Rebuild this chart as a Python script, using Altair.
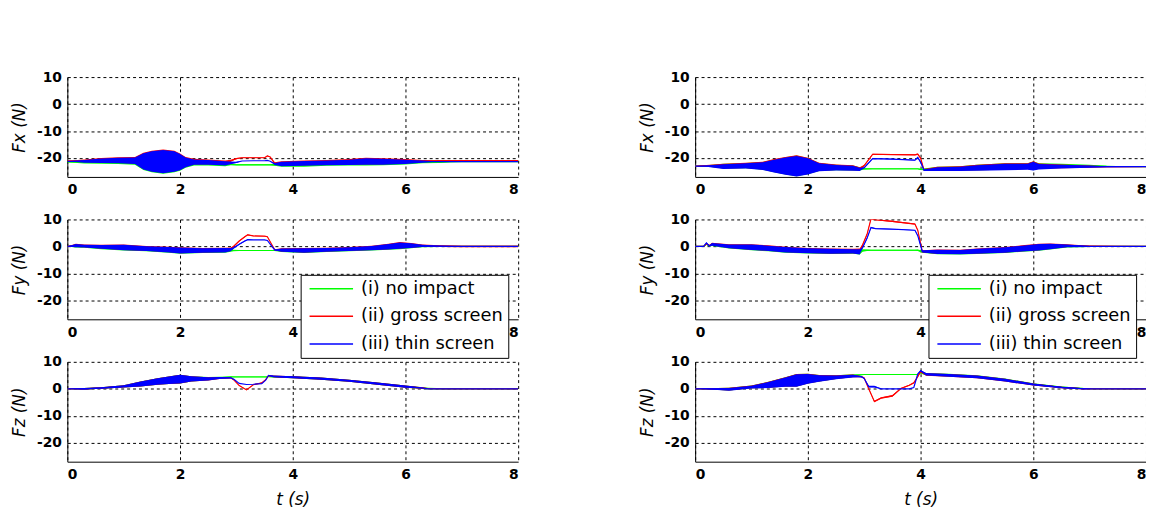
import altair as alt
import pandas as pd

SERIES = ["(i) no impact", "(ii) gross screen", "(iii) thin screen"]
COLORS = ["#00ff00", "#ff0000", "#0000ff"]
X_TICKS = [0, 2, 4, 6, 8]
Y_TICKS = [-20, -10, 0, 10]
Y_DOMAIN = [-27, 10]

# ---------------- left column : Fx ----------------
LFX_T = [0, 0.3, 0.6, 0.9, 1.2, 1.35, 1.5, 1.7, 1.9, 2.0, 2.1, 2.25, 2.5, 2.8, 2.9, 3.0, 3.1, 3.3, 3.5, 3.55,
         3.6, 3.68, 3.8, 4.2, 4.6, 5.0, 5.3, 5.6, 6.0, 6.3, 6.6, 6.8, 7.0, 8.0]
LFX_G = [-21.4, -21.5, -21.3, -21.2, -21.3, -21.4, -21.5, -21.5, -21.5, -21.7, -21.8, -21.8, -21.9, -22.2, -22.4,
         -22.5, -22.5, -22.5, -22.5, -22.5, -22.5, -22.5, -22.4, -22.3, -22.0, -21.8, -21.6, -21.6, -21.6, -21.5,
         -21.5, -21.4, -21.3, -21.3]
LFX_G_AMP = [0.2, 0.5, 0.8, 1.0, 1.2, 3.0, 3.8, 4.3, 3.8, 3.0, 1.8, 1.0, 0.9, 0.8, 0.3, 0.2, 0.2, 0.2, 0.2, 0.2,
             0.2, 0.4, 0.8, 0.9, 0.9, 1.0, 1.2, 1.1, 0.8, 0.4, 0.3, 0.1, 0, 0]
LFX_R = [-21.0, -21.0, -20.8, -20.7, -20.8, -21.0, -21.1, -21.1, -21.1, -21.3, -21.4, -21.3, -21.4, -21.7, -21.0,
         -20.2, -19.9, -19.9, -19.9, -19.2, -19.6, -22.0, -22.0, -21.8, -21.6, -21.4, -21.1, -21.2, -21.2, -21.0,
         -20.9, -20.9, -20.9, -20.9]
LFX_R_AMP = [0, 0.5, 0.8, 1.0, 1.2, 3.0, 3.8, 4.3, 3.8, 3.0, 1.8, 1.0, 0.9, 0.8, 0.4, 0.2, 0.1, 0.1, 0.1, 0.1,
             0.1, 0.4, 0.8, 0.9, 0.9, 1.0, 1.2, 1.1, 0.8, 0.3, 0, 0, 0, 0]
LFX_B = [-21.2, -21.2, -21.0, -20.9, -21.0, -21.2, -21.3, -21.3, -21.3, -21.5, -21.6, -21.5, -21.6, -22.0, -21.8,
         -21.6, -21.1, -21.0, -21.0, -20.9, -21.2, -22.2, -22.2, -22.0, -21.8, -21.6, -21.3, -21.4, -21.4, -21.3,
         -21.3, -21.3, -21.3, -21.3]
LFX_B_AMP = [0, 0.5, 0.8, 1.0, 1.2, 3.0, 3.8, 4.3, 3.8, 3.0, 1.8, 1.0, 0.9, 0.8, 0.5, 0.2, 0, 0, 0, 0,
             0, 0.4, 0.8, 0.9, 0.9, 1.0, 1.2, 1.1, 0.8, 0.4, 0, 0, 0, 0]

# ---------------- left column : Fy ----------------
LFY_T = [0, 0.15, 0.3, 0.6, 1.0, 1.4, 1.8, 2.0, 2.4, 2.8, 2.9, 2.95, 3.05, 3.15, 3.2, 3.3, 3.5, 3.55, 3.62, 3.68,
         3.8, 4.2, 4.6, 5.0, 5.4, 5.7, 5.9, 6.1, 6.3, 6.6, 7.0, 8.0]
LFY_G = [0, 0.2, 0.0, -0.3, -0.5, -0.9, -1.3, -1.6, -1.6, -1.5, -1.4, -1.5, -1.5, -1.5, -1.5, -1.5, -1.5, -1.5,
         -1.5, -1.5, -1.5, -1.6, -1.4, -1.1, -0.7, -0.2, 0.2, 0.2, 0.1, 0.0, 0, 0]
LFY_G_AMP = [0, 0.6, 0.5, 0.7, 1.0, 0.9, 1.0, 1.1, 0.8, 0.8, 0.6, 0.3, 0.2, 0.2, 0.2, 0.2, 0.2, 0.2, 0.2, 0.2,
             0.6, 0.8, 0.7, 0.7, 0.8, 1.0, 1.2, 0.9, 0.4, 0.2, 0.1, 0]
LFY_R = [0, 0.4, 0.2, -0.1, -0.3, -0.7, -1.1, -1.4, -1.4, -1.3, -1.0, 0.0, 2.0, 3.6, 4.3, 3.9, 3.8, 3.6, 1.0,
         -1.2, -1.3, -1.4, -1.2, -0.9, -0.5, 0.0, 0.4, 0.4, 0.3, 0.1, 0, 0]
LFY_R_AMP = [0, 0.6, 0.5, 0.7, 1.0, 0.9, 1.0, 1.1, 0.8, 0.8, 0.6, 0.3, 0.2, 0.2, 0.2, 0.1, 0.1, 0.1, 0.1, 0.2,
             0.6, 0.8, 0.7, 0.7, 0.8, 1.0, 1.2, 0.9, 0.4, 0.3, 0.3, 0.3]
LFY_B = [0, 0.3, 0.1, -0.2, -0.4, -0.8, -1.2, -1.5, -1.5, -1.4, -1.2, -0.6, 0.8, 2.0, 2.5, 2.4, 2.4, 2.2, 0.3,
         -1.3, -1.4, -1.5, -1.3, -1.0, -0.6, -0.1, 0.3, 0.3, 0.2, 0.1, 0, 0]
LFY_B_AMP = [0, 0.6, 0.5, 0.7, 1.0, 0.9, 1.0, 1.1, 0.8, 0.8, 0.6, 0.3, 0.2, 0.2, 0.1, 0, 0, 0, 0, 0.2,
             0.6, 0.8, 0.7, 0.7, 0.8, 1.0, 1.2, 0.9, 0.4, 0.2, 0.1, 0]

# ---------------- left column : Fz ----------------
LFZ_T = [0, 0.3, 0.6, 1.0, 1.3, 1.6, 1.8, 2.0, 2.2, 2.5, 2.7, 2.9, 2.95, 3.05, 3.18, 3.3, 3.45, 3.52, 3.57, 3.65,
         4.0, 4.5, 5.0, 5.5, 6.0, 6.3, 6.4, 6.7, 7.0, 8.0]
LFZ_G = [0, 0, 0.3, 0.9, 1.8, 2.7, 3.2, 3.6, 3.7, 3.8, 4.1, 4.4, 4.4, 4.4, 4.4, 4.4, 4.4, 4.4, 4.5, 4.5,
         4.3, 3.8, 3.0, 1.9, 0.8, 0.3, 0.1, 0, 0, 0]
LFZ_G_AMP = [0, 0.3, 0.3, 0.4, 0.9, 1.2, 1.4, 1.6, 1.0, 0.6, 0.4, 0.2, 0.1, 0.1, 0.1, 0.1, 0.1, 0.1, 0.1, 0.3,
             0.4, 0.4, 0.4, 0.4, 0.4, 0.3, 0.3, 0.2, 0, 0]
LFZ_R = [0, 0, 0.3, 0.9, 1.8, 2.7, 3.2, 3.6, 3.7, 3.7, 4.0, 4.1, 3.4, 1.2, -0.4, 1.5, 2.2, 3.4, 4.9, 4.6,
         4.3, 3.8, 3.0, 1.9, 0.8, 0.3, 0.1, 0, 0, 0]
LFZ_R_AMP = [0, 0.3, 0.3, 0.4, 0.9, 1.2, 1.4, 1.6, 1.0, 0.6, 0.4, 0.2, 0.1, 0.1, 0.1, 0.1, 0.1, 0.1, 0.1, 0.3,
             0.4, 0.4, 0.4, 0.4, 0.4, 0.3, 0.1, 0, 0, 0]
LFZ_B = [0, 0, 0.3, 0.9, 1.8, 2.7, 3.2, 3.6, 3.7, 3.7, 4.0, 4.1, 3.6, 2.0, 1.6, 1.7, 1.9, 3.2, 5.0, 4.6,
         4.3, 3.8, 3.0, 1.9, 0.8, 0.3, 0, 0, 0, 0]
LFZ_B_AMP = [0, 0.3, 0.3, 0.4, 0.9, 1.2, 1.4, 1.6, 1.0, 0.6, 0.4, 0.2, 0, 0, 0, 0, 0, 0, 0.1, 0.3,
             0.4, 0.4, 0.4, 0.4, 0.4, 0.2, 0, 0, 0, 0]

# ---------------- right column : Fx ----------------
RFX_T = [0, 0.2, 0.5, 0.9, 1.2, 1.4, 1.6, 1.8, 2.0, 2.2, 2.5, 2.8, 2.92, 3.0, 3.15, 3.5, 3.9, 3.95, 4.0, 4.06,
         4.3, 4.7, 5.0, 5.5, 5.9, 6.0, 6.1, 6.5, 7.0, 7.3, 8.0]
RFX_G = [-23.0, -22.9, -23.0, -22.8, -22.9, -22.9, -22.9, -22.9, -23.0, -23.3, -23.5, -23.7, -24.0, -24.0, -24.0,
         -24.0, -24.0, -24.0, -24.2, -24.2, -23.9, -23.8, -23.5, -23.1, -23.0, -22.9, -22.9, -22.8, -22.9, -23.1,
         -23.2]
RFX_G_AMP = [0, 0.2, 0.9, 1.0, 1.4, 2.4, 3.2, 3.8, 3.0, 1.5, 1.0, 0.9, 0.6, 0.2, 0.1, 0.1, 0.1, 0.1, 0.2, 0.3,
             0.7, 0.8, 1.0, 1.2, 1.1, 1.6, 1.0, 0.7, 0.4, 0.2, 0]
RFX_R = [-23.0, -22.8, -23.0, -22.7, -22.8, -22.8, -22.8, -22.8, -22.9, -23.2, -23.4, -23.6, -24.0, -22.8, -18.6,
         -18.7, -18.8, -18.6, -20.0, -24.4, -23.9, -23.8, -23.5, -23.1, -23.0, -22.8, -23.0, -23.1, -23.2, -23.2,
         -23.2]
RFX_R_AMP = [0, 0.2, 0.9, 1.0, 1.4, 2.4, 3.2, 3.8, 3.0, 1.5, 1.0, 0.9, 0.6, 0.2, 0.2, 0.2, 0.2, 0.3, 0.2, 0.3,
             0.7, 0.8, 1.0, 1.2, 1.1, 1.6, 1.0, 0.7, 0.4, 0.2, 0.1]
RFX_B = [-23.0, -23.0, -23.2, -22.9, -23.0, -23.0, -23.0, -23.0, -23.1, -23.4, -23.6, -23.8, -24.2, -23.6, -20.2,
         -20.4, -20.8, -19.8, -21.5, -24.5, -24.1, -24.0, -23.7, -23.3, -23.2, -23.0, -23.2, -23.2, -23.2, -23.2,
         -23.2]
RFX_B_AMP = [0, 0.2, 0.9, 1.0, 1.4, 2.4, 3.2, 3.8, 3.0, 1.5, 1.0, 0.9, 0.6, 0.2, 0.1, 0.1, 0.1, 0.3, 0.2, 0.3,
             0.7, 0.8, 1.0, 1.2, 1.1, 1.6, 1.0, 0.7, 0.4, 0.2, 0.1]

# ---------------- right column : Fy ----------------
RFY_T = [0, 0.15, 0.2, 0.25, 0.3, 0.6, 1.0, 1.3, 1.6, 2.0, 2.4, 2.8, 2.92, 2.97, 3.05, 3.12, 3.2, 3.5, 3.9, 3.95,
         4.03, 4.3, 4.7, 5.0, 5.5, 5.8, 6.1, 6.3, 6.6, 7.0, 8.0]
RFY_G = [0, 0, 0.8, 0.2, 0.7, -0.1, -0.4, -0.8, -1.3, -1.7, -1.9, -1.9, -2.0, -1.5, -1.4, -1.4, -1.4, -1.4, -1.4,
         -1.4, -1.9, -2.1, -2.2, -1.9, -1.4, -0.9, -0.4, -0.1, 0.1, 0, 0]
RFY_G_AMP = [0, 0, 0.2, 0.2, 0.5, 0.7, 1.0, 1.0, 1.0, 0.9, 0.9, 0.8, 1.0, 0.5, 0.3, 0.2, 0.2, 0.2, 0.2, 0.3,
             0.4, 0.8, 0.8, 0.9, 1.0, 1.1, 1.2, 1.0, 0.5, 0.2, 0.1]
RFY_R = [0, 0, 1.0, 0.3, 0.9, 0.1, -0.2, -0.6, -1.1, -1.5, -1.7, -1.7, -1.8, 0.5, 4.5, 10.2, 9.9, 9.3, 8.3, 6.0,
         -1.8, -1.9, -2.0, -1.7, -1.2, -0.7, -0.2, 0.1, 0.3, 0.1, 0]
RFY_R_AMP = [0, 0, 0.2, 0.2, 0.5, 0.7, 1.0, 1.0, 1.0, 0.9, 0.9, 0.8, 1.0, 0.3, 0.3, 0.3, 0.2, 0.2, 0.2, 0.2,
             0.4, 0.8, 0.8, 0.9, 1.0, 1.1, 1.2, 1.0, 0.5, 0.2, 0.1]
RFY_B = [0, 0, 1.3, 0.2, 0.8, 0, -0.3, -0.7, -1.2, -1.6, -1.8, -1.8, -2.0, -0.5, 3.0, 7.0, 6.6, 6.4, 6.0, 4.0,
         -1.8, -2.0, -2.1, -1.8, -1.3, -0.8, -0.3, 0, 0.2, 0, 0]
RFY_B_AMP = [0, 0, 0.2, 0.2, 0.5, 0.7, 1.0, 1.0, 1.0, 0.9, 0.9, 0.8, 1.0, 0.3, 0.2, 0.2, 0.1, 0.1, 0.1, 0.1,
             0.4, 0.8, 0.8, 0.9, 1.0, 1.1, 1.2, 1.0, 0.5, 0.2, 0.1]

# ---------------- right column : Fz ----------------
RFZ_T = [0, 0.2, 0.6, 1.0, 1.3, 1.6, 1.8, 2.0, 2.2, 2.5, 2.8, 2.95, 3.0, 3.08, 3.18, 3.3, 3.5, 3.65, 3.8, 3.88,
         3.95, 4.0, 4.1, 4.5, 5.0, 5.5, 6.0, 6.5, 6.9, 7.05, 8.0]
RFZ_G = [0, 0, -0.1, 0.7, 1.5, 2.6, 3.2, 3.8, 3.9, 4.3, 4.9, 5.2, 5.3, 5.3, 5.3, 5.3, 5.3, 5.3, 5.3, 5.3,
         5.3, 6.0, 5.4, 5.1, 4.5, 3.3, 1.7, 0.6, 0.1, 0, 0]
RFZ_G_AMP = [0, 0.2, 0.5, 0.5, 1.1, 1.7, 2.3, 1.8, 1.2, 0.7, 0.5, 0.2, 0.1, 0.1, 0.1, 0.1, 0.1, 0.1, 0.1, 0.1,
             0.1, 0.3, 0.5, 0.5, 0.5, 0.5, 0.4, 0.3, 0.2, 0, 0]
RFZ_R = [0, 0, -0.1, 0.7, 1.5, 2.6, 3.2, 3.8, 3.9, 4.3, 4.8, 4.5, 4.0, 0.0, -4.7, -3.4, -2.6, 0.1, 1.3, 2.2,
         4.5, 6.3, 5.3, 5.0, 4.4, 3.2, 1.6, 0.5, 0, 0, 0]
RFZ_R_AMP = [0, 0.2, 0.5, 0.5, 1.1, 1.7, 2.3, 1.8, 1.2, 0.7, 0.5, 0.2, 0.1, 0.2, 0.3, 0.3, 0.3, 0.2, 0.2, 0.2,
             0.2, 0.3, 0.5, 0.5, 0.5, 0.5, 0.4, 0.3, 0.2, 0, 0]
RFZ_B = [0, 0, -0.2, 0.6, 1.4, 2.5, 3.1, 3.7, 3.8, 4.2, 4.7, 4.5, 3.8, 0.8, 0.8, 0, 0, 0, 0, 0.5,
         5.5, 6.7, 5.4, 5.0, 4.4, 3.2, 1.6, 0.5, 0, 0, 0]
RFZ_B_AMP = [0, 0.2, 0.5, 0.5, 1.1, 1.7, 2.3, 1.8, 1.2, 0.7, 0.5, 0.2, 0.1, 0.3, 0.3, 0, 0, 0, 0, 0,
             0.2, 0.3, 0.5, 0.5, 0.5, 0.5, 0.4, 0.3, 0.2, 0, 0]

PLOT_W = 456
PLOT_H = 101


def panel(T, mids, amps, ytitle, bottom=False, legend=False):
    layers = []
    for name, col, m, a in zip(SERIES, COLORS, mids, amps):
        df = pd.DataFrame({
            "t": T,
            "series": [name] * len(T),
            "mid": m,
            "lo": [v - w for v, w in zip(m, a)],
            "hi": [v + w for v, w in zip(m, a)],
        })
        x = alt.X("t:Q", scale=alt.Scale(domain=[0, 8], nice=False),
                  axis=alt.Axis(values=X_TICKS), title="t (s)" if bottom else None)
        yscale = alt.Scale(domain=Y_DOMAIN, nice=False, zero=False)
        yaxis = alt.Axis(values=Y_TICKS, labelExpr="'' + datum.value")
        area = alt.Chart(df).mark_area(color=col, opacity=1, clip=True).encode(
            x=x,
            y=alt.Y("lo:Q", scale=yscale, axis=yaxis, title=ytitle),
            y2="hi:Q",
        )
        if legend:
            leg = alt.Legend(orient="none", legendX=236, legendY=56, title=None)
        else:
            leg = None
        line = alt.Chart(df).mark_line(strokeWidth=1.2, clip=True).encode(
            x=x,
            y=alt.Y("mid:Q", scale=yscale, axis=yaxis, title=ytitle),
            color=alt.Color("series:N", scale=alt.Scale(domain=SERIES, range=COLORS), legend=leg),
        )
        layers += [area, line]
    return alt.layer(*layers).properties(width=PLOT_W, height=PLOT_H)


panels = [
    panel(LFX_T, [LFX_G, LFX_R, LFX_B], [LFX_G_AMP, LFX_R_AMP, LFX_B_AMP], "Fx (N)"),
    panel(RFX_T, [RFX_G, RFX_R, RFX_B], [RFX_G_AMP, RFX_R_AMP, RFX_B_AMP], "Fx (N)"),
    panel(LFY_T, [LFY_G, LFY_R, LFY_B], [LFY_G_AMP, LFY_R_AMP, LFY_B_AMP], "Fy (N)", legend=True),
    panel(RFY_T, [RFY_G, RFY_R, RFY_B], [RFY_G_AMP, RFY_R_AMP, RFY_B_AMP], "Fy (N)", legend=True),
    panel(LFZ_T, [LFZ_G, LFZ_R, LFZ_B], [LFZ_G_AMP, LFZ_R_AMP, LFZ_B_AMP], "Fz (N)", bottom=True),
    panel(RFZ_T, [RFZ_G, RFZ_R, RFZ_B], [RFZ_G_AMP, RFZ_R_AMP, RFZ_B_AMP], "Fz (N)", bottom=True),
]

chart = alt.concat(
    *panels, columns=2, spacing={"row": 43, "column": 179}, bounds="flush"
).resolve_scale(
    color="independent"
).properties(
    padding={"left": 2, "top": 60, "right": 0, "bottom": 0},
    background="white",
).configure_view(
    stroke=None
).configure_axis(
    labelFont="DejaVu Sans", labelFontWeight="bold", labelFontSize=14, labelColor="black",
    labelPadding=6,
    titleFont="DejaVu Sans", titleFontStyle="italic", titleFontWeight="normal", titleFontSize=17,
    titleColor="black", titlePadding=8,
    domainColor="black", domainWidth=1,
    ticks=False,
    grid=True, gridColor="black", gridDash=[3, 3], gridWidth=1, gridOpacity=1,
).configure_axisX(
    titlePadding=10,
).configure_legend(
    strokeColor="black", fillColor="white", padding=5, cornerRadius=0,
    labelFont="DejaVu Sans", labelFontSize=18, labelColor="black",
    symbolType="M-4.4,0H4.4", symbolSize=100, symbolStrokeWidth=1.5,
    symbolOffset=17, labelOffset=21,
    rowPadding=10,
)

chart.save("out.html", embed_options={"renderer": "svg", "actions": False})
